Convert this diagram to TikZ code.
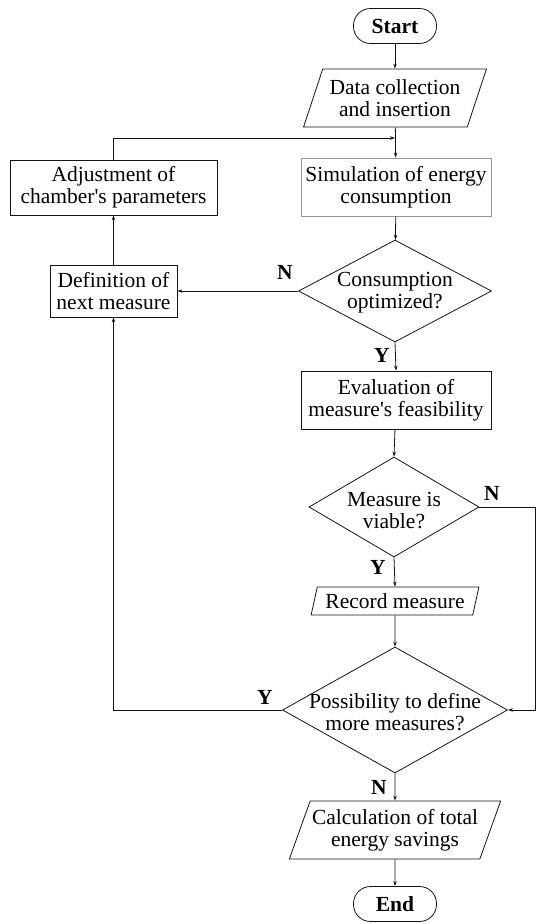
\documentclass[tikz,border=0pt]{standalone}
\usepackage{fontspec}
\setmainfont{Liberation Serif}
\usepackage{tikz}
\usetikzlibrary{arrows.meta,positioning,shapes.geometric}
\definecolor{noir}{RGB}{20,20,20}
\definecolor{gris}{RGB}{150,150,150}

\begin{document}
\begin{tikzpicture}[x=1pt,y=-1pt,line width=0.8pt,draw=noir,
	font=\fontsize{21.5}{22}\selectfont,
	>={Stealth[length=5pt,width=3.5pt]},
	terminal/.style={draw,rounded corners=17pt,minimum width=83pt,minimum height=35pt,inner sep=0pt,font=\fontsize{21.5}{22}\selectfont\bfseries},
	process/.style={draw,rectangle,align=center,inner sep=0pt,minimum height=56pt},
	io/.style={draw,trapezium,trapezium stretches=true,trapezium left angle=65,trapezium right angle=115,align=center,inner sep=0pt},
	decision/.style={draw,diamond,inner sep=0pt},
	yn/.style={inner sep=0pt,font=\fontsize{21.5}{22}\selectfont\bfseries}]
	\useasboundingbox (0,0) rectangle (536,924);
	\node[terminal] (start) at (395,26) {Start};
	\node[io,minimum width=183pt,minimum height=58pt] (data) at (395,98) {Data collection\\and insertion};
	\node[process,draw=gris,minimum width=190pt,minimum height=58pt] (sim) at (396,187) {Simulation of energy\\consumption};
	\node[process,minimum width=207pt,minimum height=55pt] (adj) at (113.5,187.5) {Adjustment of\\chamber\textquotesingle s parameters};
	\node[process,minimum width=127pt,minimum height=52pt] (def) at (113.5,291) {Definition of\\next measure};
	\node[decision,minimum width=193pt,minimum height=102pt,label={[align=center,yshift=-2pt]center:Consumption\\optimized?}] (cons) at (395,291) {};
	\node[process,minimum width=190pt,minimum height=58pt] (eval) at (396,400) {Evaluation of\\measure\textquotesingle s feasibility};
	\node[decision,minimum width=170pt,minimum height=100pt,label={[align=center,yshift=-4pt]center:Measure is\\viable?}] (viable) at (394,507) {};
	\node[io,trapezium left angle=70,trapezium right angle=110,minimum width=168pt,minimum height=28pt] (record) at (395,601) {Record measure};
	\node[decision,minimum width=225pt,minimum height=126pt,label={[align=center,yshift=-2pt]center:Possibility to define\\more measures?}] (more) at (395,710) {};
	\node[io,trapezium left angle=64,trapezium right angle=116,minimum width=212pt,minimum height=58pt] (calc) at (395,830) {Calculation of total\\energy savings};
	\node[terminal] (end) at (395,904) {End};
	\coordinate (jonction) at (395,138);
	\coordinate (bord) at (535,0);
	\draw[->] (start) -- (data);
	\draw[->] (data) -- (sim);
	\draw[->] (adj.north) |- (jonction);
	\draw[->] (sim) -- (cons);
	\draw[->] (cons.west) -- (def.east);
	\draw[->] (def) -- (adj);
	\draw[->] (cons.south) -- (eval.north);
	\draw[->] (eval) -- (viable.north);
	\draw[->] (viable.south) -- (record.north);
	\draw[->] (viable.east) -- (viable.east -| bord) |- (more.east);
	\draw[->] (record) -- (more.north);
	\draw[->] (more.west) -| (def.south);
	\draw[->] (more.south) -- (calc.north);
	\draw[->] (calc) -- (end);
	\node[yn] (n1) at (285,272) {N};
	\node[yn] (y1) at (382,355) {Y};
	\node[yn] (n2) at (492,493) {N};
	\node[yn] (y2) at (378,567) {Y};
	\node[yn] (y3) at (265,697) {Y};
	\node[yn] (n3) at (379,787) {N};
\end{tikzpicture}
\end{document}
